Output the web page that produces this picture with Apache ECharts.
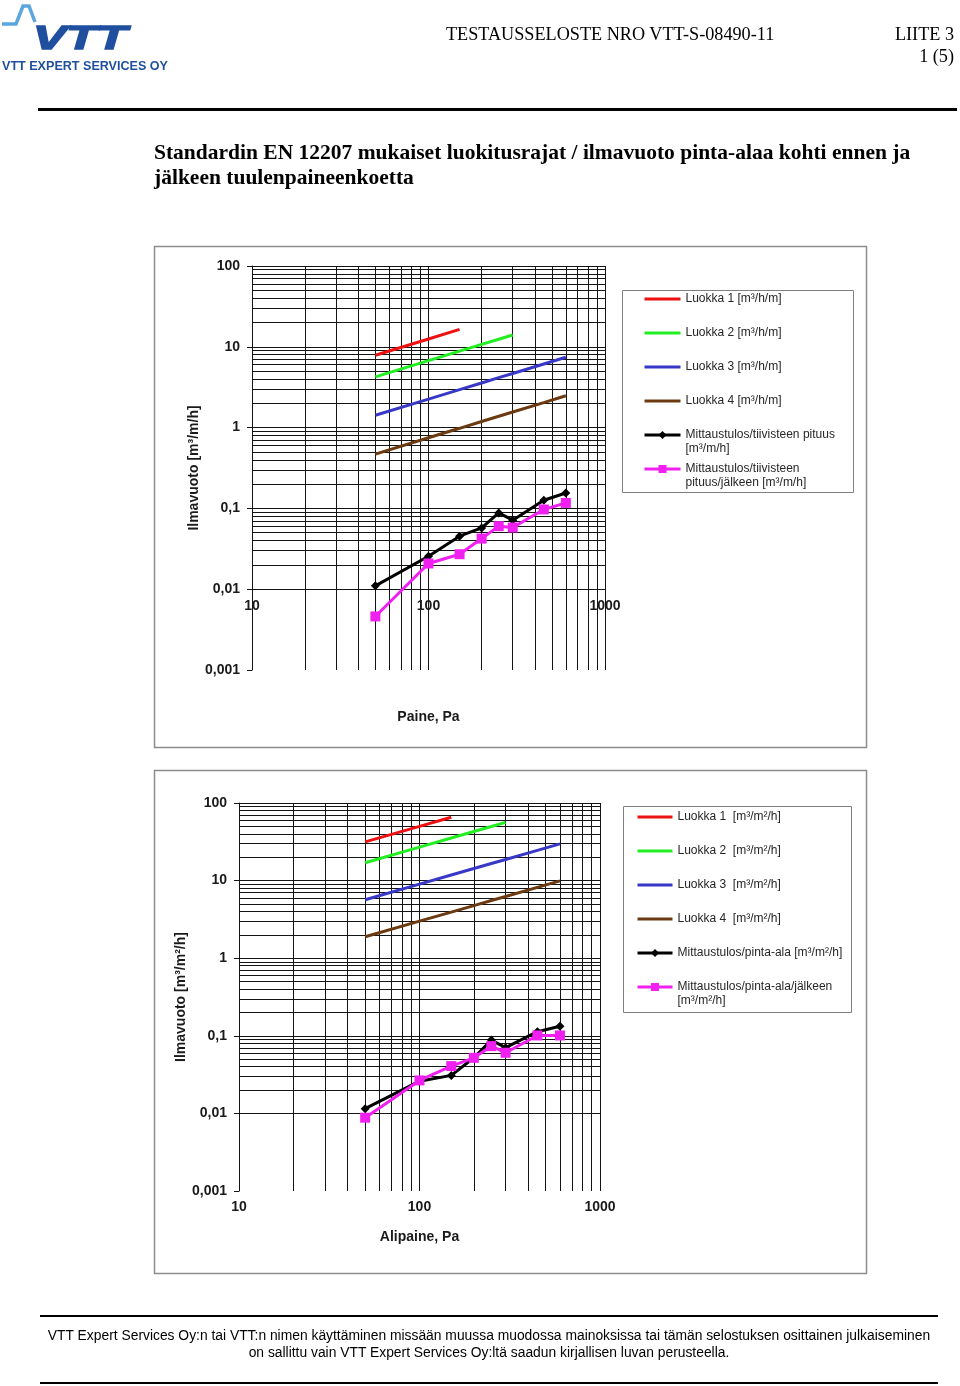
<!DOCTYPE html>
<html>
<head>
<meta charset="utf-8">
<title>Luokitusrajat</title>
<script src="https://cdn.jsdelivr.net/npm/echarts@6/dist/echarts.min.js"></script>
<style>
    html, body { margin: 0; padding: 0; background: #fff; }
    .page { position: relative; width: 960px; height: 1386px; overflow: hidden; }
    #chart { position: absolute; left: 0; top: 0; width: 960px; height: 1386px; }
    .txt { position: absolute; white-space: nowrap; color: #000; z-index: 2; }
    .serif { font-family: "Liberation Serif", "Times New Roman", serif; }
    .sans { font-family: "Liberation Sans", Arial, sans-serif; }
    .rule { position: absolute; background: #000; z-index: 2; }
</style>
</head>
<body>
<div class="page">
    <div id="chart"></div>

    <!-- header -->
    <svg class="txt" style="left:0;top:0" width="180" height="80">
        <polyline points="2,24 16,24 23,6 29,6 35,22" fill="none" stroke="#5aa6e0" stroke-width="3.5" stroke-linejoin="miter"/>
        <text x="33" y="49" font-family="Liberation Sans" font-weight="bold" font-style="italic" font-size="33"
              textLength="94" lengthAdjust="spacingAndGlyphs" fill="#1f4f9e" stroke="#1f4f9e" stroke-width="1.5">VTT</text>
        <text x="2" y="70" font-family="Liberation Sans" font-weight="bold" font-size="12.5"
              textLength="166" lengthAdjust="spacingAndGlyphs" fill="#1f4f9e">VTT EXPERT SERVICES OY</text>
    </svg>
    <div class="txt serif" style="left:446px;top:24px;font-size:18.2px;line-height:20px">TESTAUSSELOSTE NRO VTT-S-08490-11</div>
    <div class="txt serif" style="right:6px;top:24px;font-size:18.2px;line-height:20px">LIITE 3</div>
    <div class="txt serif" style="right:6px;top:46px;font-size:18.2px;line-height:20px">1 (5)</div>
    <div class="rule" style="left:38px;top:108px;width:919px;height:3px"></div>

    <!-- title -->
    <div class="txt serif" style="left:154px;top:140px;font-size:21.5px;line-height:25px;font-weight:bold">Standardin EN 12207 mukaiset luokitusrajat / ilmavuoto pinta-alaa kohti ennen ja<br>jälkeen tuulenpaineenkoetta</div>

    <!-- footer -->
    <div class="rule" style="left:40px;top:1315px;width:898px;height:2px"></div>
    <div class="txt sans" style="left:40px;width:898px;top:1327px;font-size:13.85px;line-height:17px;text-align:center">VTT Expert Services Oy:n tai VTT:n nimen käyttäminen missään muussa muodossa mainoksissa tai tämän selostuksen osittainen julkaiseminen<br>on sallittu vain VTT Expert Services Oy:ltä saadun kirjallisen luvan perusteella.</div>
    <div class="rule" style="left:40px;top:1382px;width:898px;height:2px"></div>
</div>

<script>
// koepaineet (Pa)
const pressures = [50, 100, 150, 200, 250, 300, 450, 600];
const xTickLabels = ['10', '100', '1000'];
const yTickLabels = ['0,001', '0,01', '0,1', '1', '10', '100'];

// ylempi kaavio: m³/h/m (tiivisteen pituus)
const luokka1Pituus = [7.87, 12.5, 16.4];
const luokka2Pituus = [4.25, 6.75, 8.84, 10.7, 12.4, 14.0];
const luokka3Pituus = [1.42, 2.25, 2.95, 3.57, 4.15, 4.68, 6.13, 7.43];
const luokka4Pituus = [0.47, 0.75, 0.98, 1.19, 1.38, 1.56, 2.04, 2.48];
const mittausPituus = [0.011, 0.0256, 0.0453, 0.0574, 0.088, 0.0715, 0.126, 0.155];
const jalkeenPituus = [0.0046, 0.0208, 0.0271, 0.0423, 0.0603, 0.058, 0.097, 0.117];

// alempi kaavio: m³/m²/h (pinta-ala)
const luokka1Ala = [31.5, 50, 65.5];
const luokka2Ala = [17.0, 27, 35.4, 42.9, 49.7, 56.2];
const luokka3Ala = [5.67, 9, 11.8, 14.3, 16.6, 18.7, 24.5, 29.7];
const luokka4Ala = [1.89, 3, 3.93, 4.76, 5.53, 6.24, 8.18, 9.91];
const mittausAla = [0.0115, 0.026, 0.0309, 0.0522, 0.088, 0.0703, 0.113, 0.133];
const jalkeenAla = [0.0088, 0.0266, 0.0407, 0.052, 0.0736, 0.0605, 0.101, 0.101];

// ruudukon viivat (log-asteikko, 1..9 jokaisella dekadilla)
const xDecades = [10, 100];
const yDecades = [0.001, 0.01, 0.1, 1, 10];
const minorSteps = [1, 2, 3, 4, 5, 6, 7, 8, 9];

const FONT = '"Liberation Sans", Arial, sans-serif';
const GRID_COLOR = '#141414';

function gridValues(decades, last) {
    const out = [];
    decades.forEach(d => minorSteps.forEach(m => out.push(+(d * m).toPrecision(3))));
    out.push(last);
    return out;
}
const xGridLines = gridValues(xDecades, 1000);
const yGridLines = gridValues(yDecades, 100);

function pairs(vals) {
    return vals.map((v, i) => [pressures[i], v]);
}

function xAxisFor(idx, name, offset, labelMargin, nameGap) {
    return {
        type: 'log', logBase: 10, gridIndex: idx, min: 10, max: 1000,
        position: 'bottom', offset: offset,
        axisLine: { show: false }, axisTick: { show: false }, splitLine: { show: false },
        axisLabel: {
            formatter: v => xTickLabels[Math.round(Math.log10(v)) - 1],
            fontFamily: FONT, fontWeight: 'bold', fontSize: 14, color: '#1a1a1a', margin: labelMargin
        },
        name: name, nameLocation: 'middle', nameGap: nameGap,
        nameTextStyle: { fontFamily: FONT, fontWeight: 'bold', fontSize: 14, color: '#1a1a1a' }
    };
}

function yAxisFor(idx, name, nameGap) {
    return {
        type: 'log', logBase: 10, gridIndex: idx, min: 0.001, max: 100,
        axisLine: { show: true, lineStyle: { color: GRID_COLOR, width: 1 } },
        axisTick: { show: true, inside: false, length: 5, lineStyle: { color: GRID_COLOR } },
        splitLine: { show: false },
        axisLabel: {
            formatter: v => yTickLabels[Math.round(Math.log10(v)) + 3],
            fontFamily: FONT, fontWeight: 'bold', fontSize: 14, color: '#1a1a1a', margin: 12
        },
        name: name, nameLocation: 'middle', nameRotate: 90, nameGap: nameGap,
        nameTextStyle: { fontFamily: FONT, fontWeight: 'bold', fontSize: 14, color: '#1a1a1a' }
    };
}

function gridSeries(idx) {
    return {
        type: 'line', xAxisIndex: idx, yAxisIndex: idx, data: [], silent: true,
        markLine: {
            silent: true, animation: false, z: 1,
            symbol: ['none', 'none'],
            label: { show: false },
            lineStyle: { color: GRID_COLOR, width: 1, type: 'solid' },
            data: xGridLines.map(v => ({ xAxis: v })).concat(yGridLines.map(v => ({ yAxis: v })))
        }
    };
}

function classSeries(idx, name, color, vals) {
    return {
        name: name, type: 'line', xAxisIndex: idx, yAxisIndex: idx, z: 3,
        data: pairs(vals), symbol: 'none',
        lineStyle: { color: color, width: 3 }, itemStyle: { color: color }
    };
}

function measureSeries(idx, name, color, symbol, size, vals) {
    return {
        name: name, type: 'line', xAxisIndex: idx, yAxisIndex: idx, z: 4,
        data: pairs(vals), symbol: symbol, symbolSize: size, showAllSymbol: true,
        lineStyle: { color: color, width: 3 }, itemStyle: { color: color }
    };
}

// yksi selite per rivi; kaksirivisissä ensimmäinen rivi kohdistetaan viivaan
function legendItem(name, left, cy, itemWidth, isClass) {
    const twoLine = name.includes('\n');
    return {
        data: [name], left: left, top: twoLine ? cy - 21 : cy - 7,
        orient: 'vertical', padding: 0, itemWidth: itemWidth, itemHeight: 10, selectedMode: false,
        itemStyle: isClass ? { opacity: 0 } : {},
        lineStyle: { width: 3 },
        formatter: n => (twoLine ? '\n' : '') + n,
        textStyle: { fontFamily: FONT, fontSize: 12, color: '#262626', lineHeight: 14 }
    };
}

const namesTop = [
    'Luokka 1 [m³/h/m]', 'Luokka 2 [m³/h/m]', 'Luokka 3 [m³/h/m]', 'Luokka 4 [m³/h/m]',
    'Mittaustulos/tiivisteen pituus\n[m³/m/h]', 'Mittaustulos/tiivisteen\npituus/jälkeen [m³/m/h]'
];
const namesBottom = [
    'Luokka 1  [m³/m²/h]', 'Luokka 2  [m³/m²/h]', 'Luokka 3  [m³/m²/h]', 'Luokka 4  [m³/m²/h]',
    'Mittaustulos/pinta-ala [m³/m²/h]', 'Mittaustulos/pinta-ala/jälkeen\n[m³/m²/h]'
];
const classColors = ['#ee1111', '#22ee22', '#3838c8', '#6b3a10'];

const legendRowsTop = [299, 333, 367, 401, 435, 469];
const legendRowsBottom = [817, 851, 885, 919, 953, 987];

const chart = echarts.init(document.getElementById('chart'));

chart.setOption({
    backgroundColor: '#fff',
    animation: false,
    grid: [
        { left: 252, top: 266, width: 353, height: 404 },
        { left: 239, top: 803, width: 361, height: 388 }
    ],
    xAxis: [
        xAxisFor(0, 'Paine, Pa', -81, 10, 121),
        xAxisFor(1, 'Alipaine, Pa', 0, 9, 39)
    ],
    yAxis: [
        yAxisFor(0, 'Ilmavuoto [m³/m/h]', 49),
        yAxisFor(1, 'Ilmavuoto [m³/m²/h]', 45)
    ],
    legend: namesTop.map((n, i) => legendItem(n, 643, legendRowsTop[i], 36, i < 4))
        .concat(namesBottom.map((n, i) => legendItem(n, 636, legendRowsBottom[i], 35, i < 4))),
    graphic: [
        { type: 'rect', silent: true, shape: { x: 154.5, y: 246.5, width: 712, height: 501 }, style: { fill: 'none', stroke: '#8c8c8c', lineWidth: 1.5 } },
        { type: 'rect', silent: true, shape: { x: 622.5, y: 290.5, width: 231, height: 202 }, style: { fill: 'none', stroke: '#808080', lineWidth: 1 } },
        { type: 'rect', silent: true, shape: { x: 154.5, y: 770.5, width: 712, height: 503 }, style: { fill: 'none', stroke: '#8c8c8c', lineWidth: 1.5 } },
        { type: 'rect', silent: true, shape: { x: 623.5, y: 806.5, width: 228, height: 206 }, style: { fill: 'none', stroke: '#808080', lineWidth: 1 } }
    ],
    series: [
        gridSeries(0),
        classSeries(0, namesTop[0], classColors[0], luokka1Pituus),
        classSeries(0, namesTop[1], classColors[1], luokka2Pituus),
        classSeries(0, namesTop[2], classColors[2], luokka3Pituus),
        classSeries(0, namesTop[3], classColors[3], luokka4Pituus),
        measureSeries(0, namesTop[4], '#000000', 'diamond', 9, mittausPituus),
        measureSeries(0, namesTop[5], '#f020f0', 'rect', 10, jalkeenPituus),

        gridSeries(1),
        classSeries(1, namesBottom[0], classColors[0], luokka1Ala),
        classSeries(1, namesBottom[1], classColors[1], luokka2Ala),
        classSeries(1, namesBottom[2], classColors[2], luokka3Ala),
        classSeries(1, namesBottom[3], classColors[3], luokka4Ala),
        measureSeries(1, namesBottom[4], '#000000', 'diamond', 9, mittausAla),
        measureSeries(1, namesBottom[5], '#f020f0', 'rect', 10, jalkeenAla)
    ]
});
</script>
</body>
</html>
